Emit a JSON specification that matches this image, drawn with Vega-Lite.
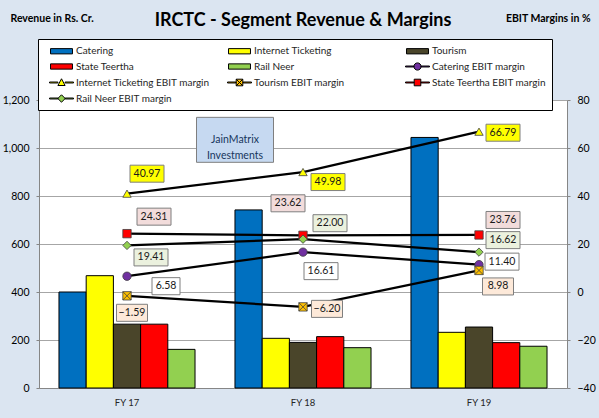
{
  "$schema": "https://vega.github.io/schema/vega-lite/v6.json",
  "width": 528,
  "height": 288,
  "autosize": {"type": "none"},
  "padding": {"left": 39, "top": 100, "right": 32, "bottom": 30},
  "background": "#DBE5F1",
  "title": {
    "text": "IRCTC - Segment Revenue & Margins",
    "font": "Lato",
    "fontSize": 18,
    "fontWeight": "bold",
    "color": "#000000",
    "anchor": "middle",
    "frame": "group",
    "offset": 0,
    "dy": 17
  },
  "datasets": {
    "revenue": [
      {"year": "FY 17", "segment": "Catering", "revenue": 400},
      {"year": "FY 17", "segment": "Internet Ticketing", "revenue": 468},
      {"year": "FY 17", "segment": "Tourism", "revenue": 266},
      {"year": "FY 17", "segment": "State Teertha", "revenue": 266},
      {"year": "FY 17", "segment": "Rail Neer", "revenue": 161},
      {"year": "FY 18", "segment": "Catering", "revenue": 742},
      {"year": "FY 18", "segment": "Internet Ticketing", "revenue": 207},
      {"year": "FY 18", "segment": "Tourism", "revenue": 190},
      {"year": "FY 18", "segment": "State Teertha", "revenue": 214},
      {"year": "FY 18", "segment": "Rail Neer", "revenue": 168},
      {"year": "FY 19", "segment": "Catering", "revenue": 1044},
      {"year": "FY 19", "segment": "Internet Ticketing", "revenue": 232},
      {"year": "FY 19", "segment": "Tourism", "revenue": 254},
      {"year": "FY 19", "segment": "State Teertha", "revenue": 189},
      {"year": "FY 19", "segment": "Rail Neer", "revenue": 174}
    ],
    "margins": [
      {"year": "FY 17", "series": "Catering EBIT margin", "margin": 6.58},
      {"year": "FY 18", "series": "Catering EBIT margin", "margin": 16.61},
      {"year": "FY 19", "series": "Catering EBIT margin", "margin": 11.40},
      {"year": "FY 17", "series": "Internet Ticketing EBIT margin", "margin": 40.97},
      {"year": "FY 18", "series": "Internet Ticketing EBIT margin", "margin": 49.98},
      {"year": "FY 19", "series": "Internet Ticketing EBIT margin", "margin": 66.79},
      {"year": "FY 17", "series": "Tourism EBIT margin", "margin": -1.59},
      {"year": "FY 18", "series": "Tourism EBIT margin", "margin": -6.20},
      {"year": "FY 19", "series": "Tourism EBIT margin", "margin": 8.98},
      {"year": "FY 17", "series": "State Teertha EBIT margin", "margin": 24.31},
      {"year": "FY 18", "series": "State Teertha EBIT margin", "margin": 23.62},
      {"year": "FY 19", "series": "State Teertha EBIT margin", "margin": 23.76},
      {"year": "FY 17", "series": "Rail Neer EBIT margin", "margin": 19.41},
      {"year": "FY 18", "series": "Rail Neer EBIT margin", "margin": 22.00},
      {"year": "FY 19", "series": "Rail Neer EBIT margin", "margin": 16.62}
    ]
  },
  "layer": [
    {
      "data": {"name": "revenue"},
      "layer": [
        {
          "mark": {"type": "bar", "stroke": "#000000", "strokeWidth": 1},
          "encoding": {
            "x": {
              "field": "year",
              "type": "nominal",
              "title": null,
              "scale": {"paddingInner": 0.227, "paddingOuter": 0.1135},
              "axis": {"labelAngle": 0, "ticks": false, "labelPadding": 9, "labelFontSize": 9.5, "labelColor": "#262626"}
            },
            "xOffset": {
              "field": "segment",
              "sort": ["Catering", "Internet Ticketing", "Tourism", "State Teertha", "Rail Neer"],
              "scale": {"paddingInner": 0, "paddingOuter": 0}
            },
            "y": {
              "field": "revenue",
              "type": "quantitative",
              "scale": {"domain": [0, 1200], "nice": false},
              "axis": {
                "values": [0, 200, 400, 600, 800, 1000, 1200],
                "format": ",.0f",
                "grid": true,
                "tickSize": 3,
                "labelPadding": 7,
                "title": "Revenue in Rs. Cr.",
                "titleAngle": 0,
                "titleX": -29,
                "titleY": -82,
                "titleAlign": "left",
                "titleBaseline": "middle",
                "titleFontSize": 10.5,
                "titleFontWeight": "bold"
              }
            },
            "fill": {
              "field": "segment",
              "type": "nominal",
              "legend": null,
              "scale": {
                "domain": ["Catering", "Internet Ticketing", "Tourism", "State Teertha", "Rail Neer"],
                "range": ["#0070C0", "#FFFF00", "#4A452A", "#FF0000", "#92D050"]
              }
            }
          }
        },
        {
          "mark": {"type": "point", "filled": true, "opacity": 0, "stroke": "#000000", "strokeWidth": 1},
          "encoding": {
            "x": {"field": "year", "type": "nominal"},
            "y": {"field": "revenue", "type": "quantitative"},
            "color": {
              "field": "segment",
              "type": "nominal",
              "scale": {
                "domain": ["Catering", "Internet Ticketing", "Tourism", "State Teertha", "Rail Neer", "Catering EBIT margin", "Internet Ticketing EBIT margin", "Tourism EBIT margin", "State Teertha EBIT margin", "Rail Neer EBIT margin"],
                "range": ["#0070C0", "#FFFF00", "#4A452A", "#FF0000", "#92D050", "#7030A0", "#FFFF00", "#FFC000", "#FF0000", "#92D050"]
              },
              "legend": {
                "title": null,
                "labelExpr": "datum.label == 'State Teertha EBIT margin' ? datum.label + '\u00a0\u00a0\u00a0\u00a0\u00a0\u00a0\u00a0\u00a0' : datum.label"
              }
            },
            "shape": {
              "field": "segment",
              "type": "nominal",
              "scale": {
                "domain": ["Catering", "Internet Ticketing", "Tourism", "State Teertha", "Rail Neer", "Catering EBIT margin", "Internet Ticketing EBIT margin", "Tourism EBIT margin", "State Teertha EBIT margin", "Rail Neer EBIT margin"],
                "range": [
                  "M-1.83,-0.44H1.83V0.44H-1.83Z",
                  "M-1.83,-0.44H1.83V0.44H-1.83Z",
                  "M-1.83,-0.44H1.83V0.44H-1.83Z",
                  "M-1.83,-0.44H1.83V0.44H-1.83Z",
                  "M-1.83,-0.44H1.83V0.44H-1.83Z",
                  "M-2,-0.08H-0.6V0.08H-2Z M0.6,-0.08H2V0.08H0.6Z M0.6,0A0.6,0.6 0 1,1 -0.6,0A0.6,0.6 0 1,1 0.6,0Z",
                  "M-2,-0.08H-0.6V0.08H-2Z M0.6,-0.08H2V0.08H0.6Z M0,-0.62L0.6,0.5L-0.6,0.5Z",
                  "M-2,-0.08H-0.6V0.08H-2Z M0.6,-0.08H2V0.08H0.6Z M-0.55,-0.55H0.55V0.55H-0.55Z M-0.55,-0.55L0.55,0.55 M0.55,-0.55L-0.55,0.55",
                  "M-2,-0.08H-0.6V0.08H-2Z M0.6,-0.08H2V0.08H0.6Z M-0.55,-0.55H0.55V0.55H-0.55Z",
                  "M-2,-0.08H-0.6V0.08H-2Z M0.6,-0.08H2V0.08H0.6Z M0,-0.62L0.62,0L0,0.62L-0.62,0Z"
                ]
              },
              "legend": {
                "title": null,
                "labelExpr": "datum.label == 'State Teertha EBIT margin' ? datum.label + '\u00a0\u00a0\u00a0\u00a0\u00a0\u00a0\u00a0\u00a0' : datum.label"
              }
            }
          }
        },
        {
          "data": {"values": [{}]},
          "mark": {"type": "point", "shape": "M-1,-0.584H1V0.584H-1Z", "size": 5929, "filled": true, "fill": "#C6D9F1", "stroke": "#7F7F7F", "strokeWidth": 1, "opacity": 1, "xOffset": -68},
          "encoding": {"x": {"datum": "FY 18"}, "y": {"datum": 1034}}
        },
        {
          "data": {"values": [{}]},
          "mark": {"type": "text", "text": ["JainMatrix", "Investments"], "dx": -68, "lineHeight": 16, "fontSize": 10.5, "color": "#17365D"},
          "encoding": {"x": {"datum": "FY 18"}, "y": {"datum": 1034}}
        }
      ]
    },
    {
      "data": {"name": "margins"},
      "encoding": {
        "x": {"field": "year", "type": "nominal", "title": null, "axis": {"labelAngle": 0, "ticks": false, "labelPadding": 9, "labelFontSize": 9.5, "labelColor": "#262626"}},
        "y": {
          "field": "margin",
          "type": "quantitative",
          "scale": {"domain": [-40, 80], "nice": false},
          "axis": {
            "orient": "right",
            "values": [-40, -20, 0, 20, 40, 60, 80],
            "grid": false,
            "tickSize": 3,
            "labelPadding": 7,
            "title": "EBIT Margins in %",
            "titleAngle": 0,
            "titleX": 23,
            "titleY": -82,
            "titleAlign": "right",
            "titleBaseline": "middle",
            "titleFontSize": 10.5,
            "titleFontWeight": "bold"
          }
        }
      },
      "layer": [
        {
          "mark": {"type": "line", "color": "#000000", "strokeWidth": 2.25},
          "encoding": {"detail": {"field": "series"}}
        },
        {
          "mark": {"type": "point", "filled": true, "opacity": 1, "size": 70, "stroke": "#404040", "strokeWidth": 0.8},
          "encoding": {
            "fill": {
              "field": "series",
              "type": "nominal",
              "legend": null,
              "scale": {
                "domain": ["Catering EBIT margin", "Internet Ticketing EBIT margin", "Tourism EBIT margin", "State Teertha EBIT margin", "Rail Neer EBIT margin"],
                "range": ["#7030A0", "#FFFF00", "#FFC000", "#FF0000", "#92D050"]
              }
            },
            "shape": {
              "field": "series",
              "type": "nominal",
              "legend": null,
              "scale": {
                "domain": ["Catering EBIT margin", "Internet Ticketing EBIT margin", "Tourism EBIT margin", "State Teertha EBIT margin", "Rail Neer EBIT margin"],
                "range": ["circle", "triangle-up", "M-1,-1H1V1H-1Z M-1,-1L1,1 M1,-1L-1,1", "square", "diamond"]
              }
            }
          }
        },
        {
          "transform": [{"filter": "datum.series == 'Internet Ticketing EBIT margin' && datum.year == 'FY 17'"}],
          "layer": [
            {"mark": {"type": "point", "shape": "M-1,-0.5H1V0.5H-1Z", "size": 1156, "filled": true, "fill": "#FFFF00", "stroke": "#7F7F7F", "strokeWidth": 1, "opacity": 1, "xOffset": 20, "yOffset": -20}, "encoding": {}},
            {"mark": {"type": "text", "dx": 20, "dy": -20}, "encoding": {"text": {"field": "margin", "format": ".2f"}}}
          ]
        },
        {
          "transform": [{"filter": "datum.series == 'Internet Ticketing EBIT margin' && datum.year == 'FY 18'"}],
          "layer": [
            {"mark": {"type": "point", "shape": "M-1,-0.5H1V0.5H-1Z", "size": 1156, "filled": true, "fill": "#FFFF00", "stroke": "#7F7F7F", "strokeWidth": 1, "opacity": 1, "xOffset": 25, "yOffset": 10}, "encoding": {}},
            {"mark": {"type": "text", "dx": 25, "dy": 10}, "encoding": {"text": {"field": "margin", "format": ".2f"}}}
          ]
        },
        {
          "transform": [{"filter": "datum.series == 'Internet Ticketing EBIT margin' && datum.year == 'FY 19'"}],
          "layer": [
            {"mark": {"type": "point", "shape": "M-1,-0.5H1V0.5H-1Z", "size": 1156, "filled": true, "fill": "#FFFF00", "stroke": "#7F7F7F", "strokeWidth": 1, "opacity": 1, "xOffset": 24, "yOffset": 1}, "encoding": {}},
            {"mark": {"type": "text", "dx": 24, "dy": 1}, "encoding": {"text": {"field": "margin", "format": ".2f"}}}
          ]
        },
        {
          "transform": [{"filter": "datum.series == 'State Teertha EBIT margin' && datum.year == 'FY 17'"}],
          "layer": [
            {"mark": {"type": "point", "shape": "M-1,-0.5H1V0.5H-1Z", "size": 1156, "filled": true, "fill": "#F2DCDB", "stroke": "#7F7F7F", "strokeWidth": 1, "opacity": 1, "xOffset": 27, "yOffset": -17}, "encoding": {}},
            {"mark": {"type": "text", "dx": 27, "dy": -17}, "encoding": {"text": {"field": "margin", "format": ".2f"}}}
          ]
        },
        {
          "transform": [{"filter": "datum.series == 'State Teertha EBIT margin' && datum.year == 'FY 18'"}],
          "layer": [
            {"mark": {"type": "point", "shape": "M-1,-0.5H1V0.5H-1Z", "size": 1156, "filled": true, "fill": "#F2DCDB", "stroke": "#7F7F7F", "strokeWidth": 1, "opacity": 1, "xOffset": -15, "yOffset": -32}, "encoding": {}},
            {"mark": {"type": "text", "dx": -15, "dy": -32}, "encoding": {"text": {"field": "margin", "format": ".2f"}}}
          ]
        },
        {
          "transform": [{"filter": "datum.series == 'State Teertha EBIT margin' && datum.year == 'FY 19'"}],
          "layer": [
            {"mark": {"type": "point", "shape": "M-1,-0.5H1V0.5H-1Z", "size": 1156, "filled": true, "fill": "#F2DCDB", "stroke": "#7F7F7F", "strokeWidth": 1, "opacity": 1, "xOffset": 24, "yOffset": -15}, "encoding": {}},
            {"mark": {"type": "text", "dx": 24, "dy": -15}, "encoding": {"text": {"field": "margin", "format": ".2f"}}}
          ]
        },
        {
          "transform": [{"filter": "datum.series == 'Rail Neer EBIT margin' && datum.year == 'FY 17'"}],
          "layer": [
            {"mark": {"type": "point", "shape": "M-1,-0.5H1V0.5H-1Z", "size": 1156, "filled": true, "fill": "#EBF1DE", "stroke": "#7F7F7F", "strokeWidth": 1, "opacity": 1, "xOffset": 24, "yOffset": 12}, "encoding": {}},
            {"mark": {"type": "text", "dx": 24, "dy": 12}, "encoding": {"text": {"field": "margin", "format": ".2f"}}}
          ]
        },
        {
          "transform": [{"filter": "datum.series == 'Rail Neer EBIT margin' && datum.year == 'FY 18'"}],
          "layer": [
            {"mark": {"type": "point", "shape": "M-1,-0.5H1V0.5H-1Z", "size": 1156, "filled": true, "fill": "#EBF1DE", "stroke": "#7F7F7F", "strokeWidth": 1, "opacity": 1, "xOffset": 27, "yOffset": -16}, "encoding": {}},
            {"mark": {"type": "text", "dx": 27, "dy": -16}, "encoding": {"text": {"field": "margin", "format": ".2f"}}}
          ]
        },
        {
          "transform": [{"filter": "datum.series == 'Rail Neer EBIT margin' && datum.year == 'FY 19'"}],
          "layer": [
            {"mark": {"type": "point", "shape": "M-1,-0.5H1V0.5H-1Z", "size": 1156, "filled": true, "fill": "#EBF1DE", "stroke": "#7F7F7F", "strokeWidth": 1, "opacity": 1, "xOffset": 24, "yOffset": -12}, "encoding": {}},
            {"mark": {"type": "text", "dx": 24, "dy": -12}, "encoding": {"text": {"field": "margin", "format": ".2f"}}}
          ]
        },
        {
          "transform": [{"filter": "datum.series == 'Catering EBIT margin' && datum.year == 'FY 17'"}],
          "layer": [
            {"mark": {"type": "point", "shape": "M-1,-0.61H1V0.61H-1Z", "size": 784, "filled": true, "fill": "#FFFFFF", "stroke": "#7F7F7F", "strokeWidth": 1, "opacity": 1, "xOffset": 39, "yOffset": 10}, "encoding": {}},
            {"mark": {"type": "text", "dx": 39, "dy": 10}, "encoding": {"text": {"field": "margin", "format": ".2f"}}}
          ]
        },
        {
          "transform": [{"filter": "datum.series == 'Catering EBIT margin' && datum.year == 'FY 18'"}],
          "layer": [
            {"mark": {"type": "point", "shape": "M-1,-0.5H1V0.5H-1Z", "size": 1156, "filled": true, "fill": "#FFFFFF", "stroke": "#7F7F7F", "strokeWidth": 1, "opacity": 1, "xOffset": 18, "yOffset": 19}, "encoding": {}},
            {"mark": {"type": "text", "dx": 18, "dy": 19}, "encoding": {"text": {"field": "margin", "format": ".2f"}}}
          ]
        },
        {
          "transform": [{"filter": "datum.series == 'Catering EBIT margin' && datum.year == 'FY 19'"}],
          "layer": [
            {"mark": {"type": "point", "shape": "M-1,-0.5H1V0.5H-1Z", "size": 1156, "filled": true, "fill": "#FFFFFF", "stroke": "#7F7F7F", "strokeWidth": 1, "opacity": 1, "xOffset": 23, "yOffset": -3}, "encoding": {}},
            {"mark": {"type": "text", "dx": 23, "dy": -3}, "encoding": {"text": {"field": "margin", "format": ".2f"}}}
          ]
        },
        {
          "transform": [{"filter": "datum.series == 'Tourism EBIT margin' && datum.year == 'FY 17'"}],
          "layer": [
            {"mark": {"type": "point", "shape": "M-1,-0.55H1V0.55H-1Z", "size": 961, "filled": true, "fill": "#FDE9D9", "stroke": "#7F7F7F", "strokeWidth": 1, "opacity": 1, "xOffset": 5, "yOffset": 17}, "encoding": {}},
            {"mark": {"type": "text", "dx": 5, "dy": 17}, "encoding": {"text": {"field": "margin", "format": ".2f"}}}
          ]
        },
        {
          "transform": [{"filter": "datum.series == 'Tourism EBIT margin' && datum.year == 'FY 18'"}],
          "layer": [
            {"mark": {"type": "point", "shape": "M-1,-0.55H1V0.55H-1Z", "size": 961, "filled": true, "fill": "#FDE9D9", "stroke": "#7F7F7F", "strokeWidth": 1, "opacity": 1, "xOffset": 24, "yOffset": 2}, "encoding": {}},
            {"mark": {"type": "text", "dx": 24, "dy": 2}, "encoding": {"text": {"field": "margin", "format": ".2f"}}}
          ]
        },
        {
          "transform": [{"filter": "datum.series == 'Tourism EBIT margin' && datum.year == 'FY 19'"}],
          "layer": [
            {"mark": {"type": "point", "shape": "M-1,-0.55H1V0.55H-1Z", "size": 961, "filled": true, "fill": "#FDE9D9", "stroke": "#7F7F7F", "strokeWidth": 1, "opacity": 1, "xOffset": 19, "yOffset": 16}, "encoding": {}},
            {"mark": {"type": "text", "dx": 19, "dy": 16}, "encoding": {"text": {"field": "margin", "format": ".2f"}}}
          ]
        }
      ]
    }
  ],
  "resolve": {"scale": {"y": "independent", "shape": "independent", "fill": "independent", "color": "independent"}},
  "config": {
    "font": "Lato",
    "view": {"stroke": null, "fill": "#FFFFFF"},
    "axis": {
      "labelFont": "Lato",
      "labelFontSize": 10.5,
      "labelColor": "#000000",
      "titleFont": "Lato",
      "titleColor": "#000000",
      "domainColor": "#868686",
      "tickColor": "#868686",
      "gridColor": "#A6A6A6",
      "gridWidth": 1
    },
    "text": {"font": "Lato", "fontSize": 10.5, "align": "center", "baseline": "middle", "color": "#1A1A1A"},
    "legend": {
      "orient": "none",
      "direction": "horizontal",
      "legendX": -1,
      "legendY": -61,
      "columns": 3,
      "gridAlign": "all",
      "columnPadding": 11,
      "rowPadding": 3,
      "padding": 5,
      "symbolOffset": 12,
      "labelOffset": 8,
      "symbolSize": 144,
      "symbolOpacity": 1,
      "symbolStrokeWidth": 1,
      "strokeColor": "#000000",
      "fillColor": "#FFFFFF",
      "labelFont": "Lato",
      "labelFontSize": 10,
      "labelColor": "#262626",
      "labelLimit": 300
    }
  }
}
